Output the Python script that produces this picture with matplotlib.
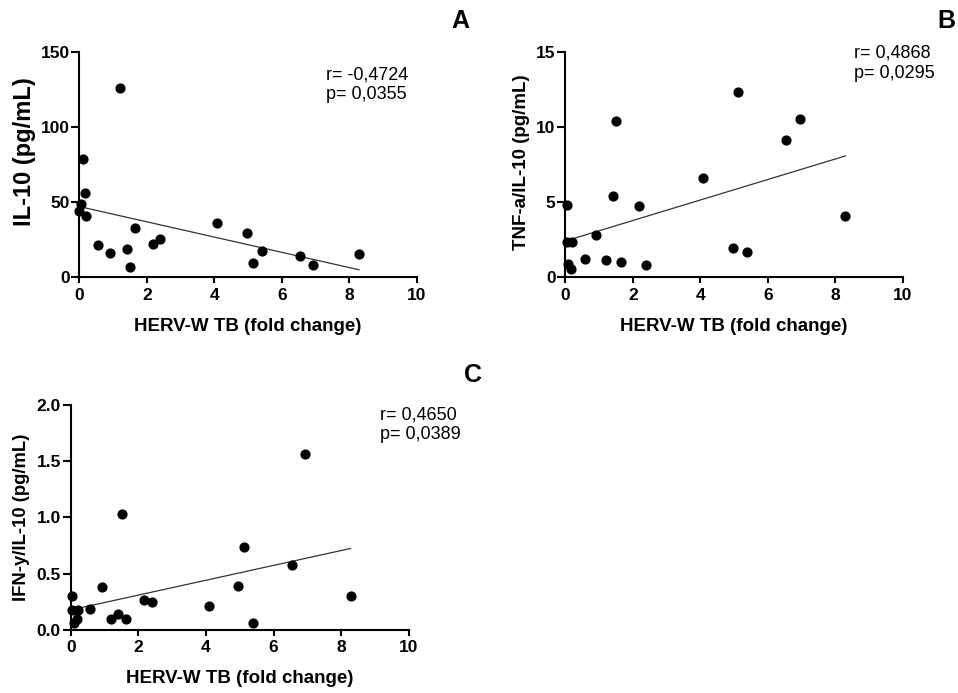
import numpy as np
import matplotlib
matplotlib.use("Agg")
import matplotlib.pyplot as plt

plt.rcParams['font.family'] = ['Liberation Sans', 'DejaVu Sans']

herv_a = [0.0, 0.04, 0.12, 0.18, 0.2, 0.56, 0.92, 1.22, 1.40, 1.50,
          1.64, 2.17, 2.39, 4.08, 4.96, 5.14, 5.41, 6.55, 6.94, 8.29]
il10 = [44.1, 48.5, 78.7, 56.3, 41.0, 21.3, 16.0, 126.1, 19.1, 6.9,
        32.6, 22.2, 25.3, 35.9, 29.7, 9.7, 17.5, 14.2, 8.0, 15.3]

herv_b = [0.04, 0.04, 0.09, 0.16, 0.2, 0.57, 0.91, 1.21, 1.40, 1.49,
          1.64, 2.18, 2.39, 4.07, 4.96, 5.13, 5.39, 6.54, 6.95, 8.30]
tnf_il10 = [4.83, 2.37, 0.89, 0.53, 2.37, 1.24, 2.79, 1.17, 5.38, 10.39,
            1.00, 4.74, 0.84, 6.63, 1.97, 12.30, 1.68, 9.13, 10.50, 4.06]

herv_c = [0.03, 0.03, 0.10, 0.18, 0.21, 0.57, 0.93, 1.20, 1.40, 1.52,
          1.64, 2.17, 2.41, 4.09, 4.96, 5.14, 5.40, 6.56, 6.94, 8.28]
ifn_il10 = [0.30, 0.175, 0.056, 0.098, 0.175, 0.18, 0.38, 0.098, 0.136, 1.03,
            0.092, 0.26, 0.25, 0.21, 0.39, 0.736, 0.062, 0.58, 1.56, 0.30]

stats_a = "r= -0,4724\np= 0,0355"
stats_b = "r= 0,4868\np= 0,0295"
stats_c = "r= 0,4650\np= 0,0389"

W, H = 958, 693
fig = plt.figure(figsize=(W / 100, H / 100), dpi=100)


def px_axes(x0, y0, x1, y1):
    return fig.add_axes([x0 / W, 1 - y1 / H, (x1 - x0) / W, (y1 - y0) / H])


def panel(ax, x, y, ymax, ystep, ylabel, ylsize, ylx, yly, fmt=None):
    ax.scatter(x, y, s=40, color='black', zorder=3, clip_on=False)
    k, b = np.polyfit(x, y, 1)
    xs = np.array([min(x), max(x)])
    ax.plot(xs, k * xs + b, color='#333333', lw=0.9, zorder=2)
    ax.set_xlim(0, 10)
    ax.set_ylim(0, ymax)
    ax.set_xticks(range(0, 11, 2))
    yt = np.arange(0, ymax + ystep / 2, ystep)
    ax.set_yticks(yt)
    if fmt:
        ax.set_yticklabels([fmt % v for v in yt])
    for s in ['top', 'right']:
        ax.spines[s].set_visible(False)
    for s in ['left', 'bottom']:
        ax.spines[s].set_linewidth(1.5)
    ax.tick_params(axis='x', direction='out', length=4.5, width=1.5, labelsize=12.5, pad=3)
    ax.tick_params(axis='y', direction='out', length=6, width=1.5, labelsize=12.5, pad=1)
    for lab in ax.get_xticklabels() + ax.get_yticklabels():
        lab.set_fontweight('bold')
    ax.set_xlabel("HERV-W TB (fold change)", fontsize=13.5, fontweight='bold')
    ax.xaxis.label.set_va('center')
    ax.xaxis.set_label_coords(0.5, -0.216)
    ax.set_ylabel(ylabel, fontsize=ylsize, fontweight='bold')
    ax.yaxis.label.set_va('center')
    ax.yaxis.set_label_coords(ylx, yly)


def stats_text(x, y, s):
    fig.text(x / W, 1 - y / H, s, fontsize=13, va='top', ha='left', linespacing=1.25)


ax_a = px_axes(79.3, 51.7, 416.7, 277.3)
panel(ax_a, herv_a, il10, 150, 50, "IL-10 (pg/mL)", 17, -0.163, 0.557)
stats_text(326, 66, stats_a)

ax_b = px_axes(565.3, 51.7, 902.7, 277.3)
panel(ax_b, herv_b, tnf_il10, 15, 5, "TNF-a/IL-10 (pg/mL)", 13.5, -0.130, 0.512)
stats_text(854, 45, stats_b)

ax_c = px_axes(70.7, 405, 408.7, 629.7)
panel(ax_c, herv_c, ifn_il10, 2.0, 0.5, "IFN-y/IL-10 (pg/mL)", 13.3, -0.145, 0.5, fmt="%.1f")
stats_text(380, 406, stats_c)

for letter, x, y in [("A", 460, 21), ("B", 946, 21), ("C", 473, 375)]:
    fig.text(x / W, 1 - y / H, letter, fontsize=18, fontweight='bold',
             ha='center', va='center')

fig.savefig("out.png", dpi=100)
